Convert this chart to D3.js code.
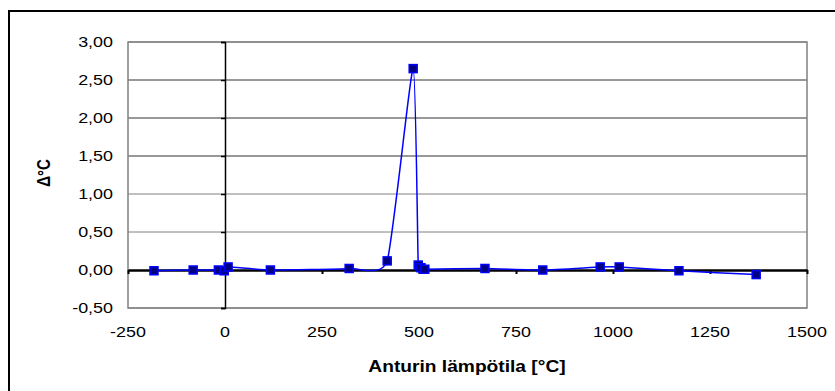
<!DOCTYPE html>
<html><head><meta charset="utf-8">
<script src="https://cdn.jsdelivr.net/npm/d3@7"></script>
<style>body{margin:0;background:#fff}svg{display:block}text{font-family:"Liberation Sans",Arial,sans-serif}</style>
</head><body><svg id="c" width="835" height="391"></svg>
<script>
const temps  = [-183, -82, -17, -2, 8, 117, 320, 418, 485, 498, 505, 515, 670, 819, 967, 1016, 1170, 1369];
const deltas = [-0.01, 0.00, 0.00, -0.01, 0.04, 0.00, 0.02, 0.12, 2.65, 0.065, 0.03, 0.01, 0.02, 0.00, 0.04, 0.04, -0.01, -0.06];
const xTicks = [-250, 0, 250, 500, 750, 1000, 1250, 1500];
const yTicks = [-0.5, 0, 0.5, 1, 1.5, 2, 2.5, 3];
const xTitle = "Anturin lämpötila [°C]";
const yTitle = "Δ°C";

const svg = d3.select("#c");
const L = 128, R = 807, T = 42, B = 308;
const x = d3.scaleLinear().domain([-250, 1500]).range([L, R]);
const y = d3.scaleLinear().domain([-0.5, 3]).range([B, T]);
const data = temps.map((t, i) => [t, deltas[i]]);
const SX = 1.28;

// outer frame
svg.append("rect").attr("x", 9).attr("y", 11).attr("width", 840).attr("height", 400)
  .attr("fill", "none").attr("stroke", "#000").attr("stroke-width", 2);

// gridlines
svg.append("g").selectAll("line").data(yTicks.filter(v => v !== 0)).join("line")
  .attr("x1", L).attr("x2", R).attr("y1", d => y(d)).attr("y2", d => y(d))
  .attr("stroke", d => (d === 1.5 || d === 2 || d === 2.5) ? "#333" : "#808080").attr("stroke-width", 1);
// plot border
svg.append("rect").attr("x", L).attr("y", T).attr("width", R - L).attr("height", B - T)
  .attr("fill", "none").attr("stroke", "#808080").attr("stroke-width", 1.5);

// y axis at x=0
const yAx = svg.append("g").attr("transform", `translate(${x(0)},0)`)
  .call(d3.axisLeft(y).tickValues(yTicks).tickSize(4).tickFormat(""));
yAx.select(".domain").attr("stroke", "#000").attr("stroke-width", 1.5);
yAx.selectAll(".tick line").attr("stroke", "#000").attr("stroke-width", 1.5);

// x axis at y=0
const xAx = svg.append("g").attr("transform", `translate(0,${y(0)})`)
  .call(d3.axisBottom(x).tickValues(xTicks).tickSize(4).tickSizeOuter(0).tickFormat(""));
xAx.select(".domain").attr("stroke", "#000").attr("stroke-width", 2.5);
xAx.selectAll(".tick line").attr("stroke", "#000").attr("stroke-width", 2);

// tick labels
const fmt = v => d3.format(".2f")(v).replace(".", ",").replace("−", "-");
svg.append("g").selectAll("text").data(yTicks).join("text")
  .attr("transform", d => `translate(113,${y(d)}) scale(${SX},1)`).attr("dy", "0.36em").attr("text-anchor", "end")
  .attr("font-size", 14).attr("fill", "#000").text(fmt);
svg.append("g").selectAll("text").data(xTicks).join("text")
  .attr("transform", d => `translate(${x(d)},332) scale(${SX},1)`).attr("dy", "0.36em").attr("text-anchor", "middle")
  .attr("font-size", 14).attr("fill", "#000").text(d => String(d));

// titles
svg.append("text").attr("transform", `translate(467,366) scale(1.2,1)`).attr("dy", "0.36em").attr("text-anchor", "middle")
  .attr("font-size", 16).attr("font-weight", "bold").text(xTitle);
svg.append("text").attr("transform", "translate(44,173) scale(1.2,1) rotate(-90)").attr("dy", "0.36em")
  .attr("text-anchor", "middle").attr("font-size", 15).attr("font-weight", "bold").text(yTitle);

// line
const line = d3.line().x(d => x(d[0])).y(d => y(d[1])).curve(d3.curveCardinal.tension(0.5));
svg.append("path").datum(data).attr("d", line).attr("fill", "none")
  .attr("stroke", "#0000FF").attr("stroke-width", 1.5);

// markers
svg.append("g").selectAll("rect").data(data).join("rect")
  .attr("x", d => x(d[0]) - 4).attr("y", d => y(d[1]) - 4).attr("width", 8).attr("height", 8)
  .attr("fill", "#000080").attr("stroke", "#0000FF").attr("stroke-width", 1.5);
</script></body></html>
